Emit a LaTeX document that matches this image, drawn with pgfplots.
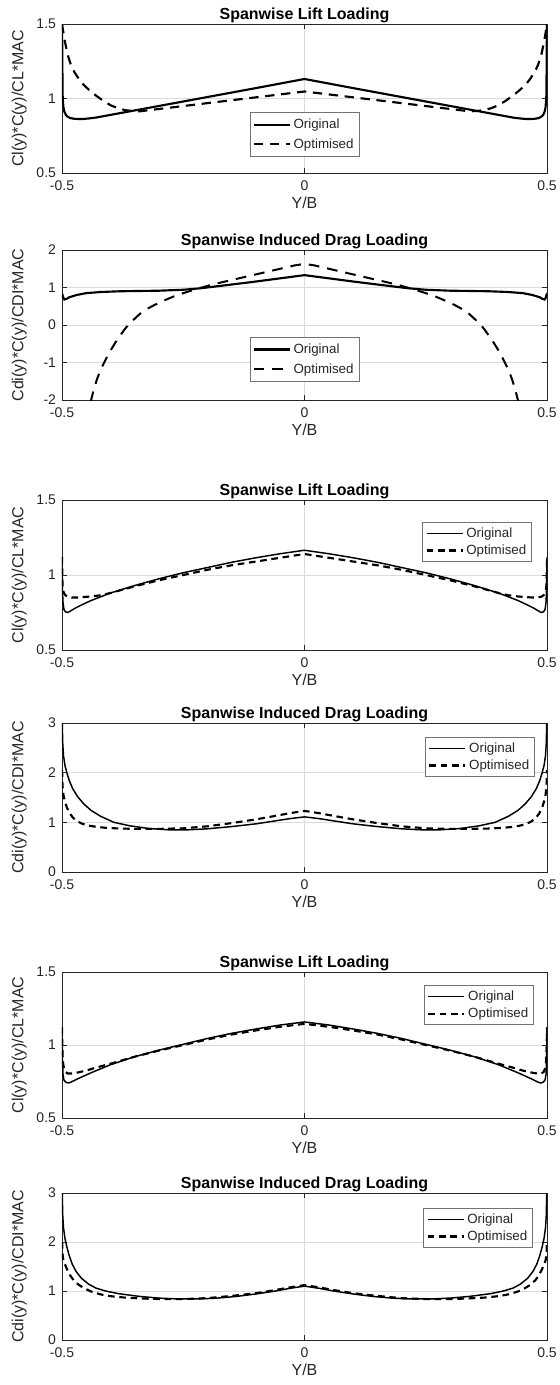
\documentclass[border=0pt]{standalone}
\usepackage{pgfplots}
\pgfplotsset{compat=1.18}
\usepackage{fontspec}
\setmainfont{Liberation Sans}
\definecolor{axgray}{gray}{0.15}
\definecolor{gridgray}{gray}{0.86}
\definecolor{txtgray}{gray}{0.15}
\pgfplotsset{
  mat/.style={
    scale only axis, width=363.75pt,
    anchor=north west,
    xmin=-0.5, xmax=0.5, xtick={-0.5,0,0.5},
    axis line style={axgray, line width=0.5pt},
    tick style={axgray, line width=0.5pt},
    tick align=inside, major tick length=3.5pt,
    grid=major, major grid style={gridgray, line width=0.5pt},
    tick label style={font=\fontsize{10.5}{12}\selectfont, text=txtgray},
    xticklabel style={yshift=-2pt},
    yticklabel style={xshift=-1pt},
    /pgf/number format/assume math mode=true,
    xlabel={Y/B},
    every axis x label/.style={at={(axis description cs:0.5,0)}, yshift=-22pt, anchor=center, font=\fontsize{12}{14}\selectfont, text=txtgray},
    every axis y label/.style={at={(axis description cs:0,0.5)}, xshift=-32pt, rotate=90, anchor=center, font=\fontsize{12}{14}\selectfont, text=txtgray},
    every axis title/.style={at={(axis description cs:0.5,1)}, anchor=base, yshift=3.5pt, font=\bfseries\fontsize{12}{14}\selectfont},
    legend cell align=left,
    legend style={draw=black!55, line width=0.5pt, fill=white, font=\fontsize{10}{12}\selectfont, inner xsep=2pt, inner ysep=2pt, row sep=0pt, text=txtgray},
    legend image code/.code={\draw[#1] (0pt,0pt) -- (27pt,0pt);},
    clip=true,
  },
  orig/.style={black, line width=1.6pt, solid},
  optA/.style={black, line width=1.6pt, dash pattern=on 7pt off 5pt},
  optB/.style={black, line width=1.5pt, dash pattern=on 8pt off 6pt},
  origT/.style={black, line width=1.1pt, solid},
  optC/.style={black, line width=1.6pt, dash pattern=on 5pt off 3.5pt},
}
\begin{document}
\begin{tikzpicture}
\useasboundingbox (0,0) rectangle (420pt,-1038.75pt);
% ---------- Panel 1 ----------
\begin{axis}[mat, at={(46.5pt,-18pt)}, height=111.75pt,
  ymin=0.5, ymax=1.5, ytick={0.5,1,1.5},
  title={Spanwise Lift Loading}, ylabel={Cl(y)*C(y)/CL*MAC},
  legend style={at={(0.5,0.107)}, anchor=south, row sep=2pt, inner ysep=3pt}]
\addplot[orig] coordinates {(-0.5,1.5) (-0.4993,1.3) (-0.499,1.1) (-0.4985,1.0) (-0.497,0.94) (-0.495,0.91) (-0.492,0.89) (-0.488,0.877) (-0.482,0.868) (-0.475,0.864) (-0.465,0.862) (-0.455,0.863) (-0.445,0.866) (-0.43,0.872) (-0.3,0.95) (-0.2,1.01) (-0.1,1.07) (0,1.131) (0.1,1.07) (0.2,1.01) (0.3,0.95) (0.43,0.872) (0.445,0.866) (0.455,0.863) (0.465,0.862) (0.475,0.864) (0.482,0.868) (0.488,0.877) (0.492,0.89) (0.495,0.91) (0.497,0.94) (0.4985,1.0) (0.499,1.1) (0.4993,1.3) (0.5,1.5)};
\addlegendentry{Original}
\addplot[optA] coordinates {(-0.5,1.5) (-0.4975,1.45) (-0.495,1.4) (-0.492,1.35) (-0.488,1.29) (-0.482,1.23) (-0.475,1.18) (-0.465,1.13) (-0.455,1.09) (-0.445,1.06) (-0.43,1.02) (-0.415,0.985) (-0.4,0.955) (-0.385,0.935) (-0.37,0.922) (-0.355,0.916) (-0.34,0.914) (-0.2,0.969) (-0.1,1.008) (0,1.047) (0.1,1.008) (0.2,0.969) (0.34,0.914) (0.355,0.916) (0.37,0.922) (0.385,0.935) (0.4,0.955) (0.415,0.985) (0.43,1.02) (0.445,1.06) (0.455,1.09) (0.465,1.13) (0.475,1.18) (0.482,1.23) (0.488,1.29) (0.492,1.35) (0.495,1.4) (0.4975,1.45) (0.5,1.5)};
\addlegendentry{Optimised}
\end{axis}
% ---------- Panel 2 ----------
\begin{axis}[mat, at={(46.5pt,-187.5pt)}, height=112.5pt,
  ymin=-2, ymax=2, ytick={-2,-1,0,1,2},
  title={Spanwise Induced Drag Loading}, ylabel={Cdi(y)*C(y)/CDI*MAC},
  legend style={at={(0.5,0.12)}, anchor=south, row sep=2pt, inner ysep=3pt}]
\addplot[orig] coordinates {(-0.5,0.72) (-0.4985,0.78) (-0.497,0.72) (-0.495,0.68) (-0.49,0.7) (-0.485,0.74) (-0.47,0.8) (-0.45,0.85) (-0.42,0.88) (-0.38,0.9) (-0.3,0.915) (-0.25,0.94) (-0.214,0.98) (-0.15,1.08) (-0.1,1.16) (-0.05,1.245) (0,1.33) (0.05,1.245) (0.1,1.16) (0.15,1.08) (0.214,0.98) (0.25,0.94) (0.3,0.915) (0.38,0.9) (0.42,0.88) (0.45,0.85) (0.47,0.8) (0.485,0.74) (0.49,0.7) (0.495,0.68) (0.497,0.72) (0.4985,0.78) (0.5,0.72)};
\addlegendentry{Original}
\addplot[optB] coordinates {(-0.441,-2.05) (-0.435,-1.75) (-0.428,-1.45) (-0.42,-1.18) (-0.41,-0.92) (-0.4,-0.68) (-0.39,-0.47) (-0.38,-0.28) (-0.37,-0.1) (-0.36,0.05) (-0.35,0.17) (-0.34,0.29) (-0.33,0.39) (-0.31,0.53) (-0.29,0.65) (-0.27,0.76) (-0.25,0.85) (-0.22,0.97) (-0.19,1.08) (-0.15,1.2) (-0.1,1.35) (-0.05,1.5) (-0.02,1.59) (0,1.63) (0.02,1.59) (0.05,1.5) (0.1,1.35) (0.15,1.2) (0.19,1.08) (0.22,0.97) (0.25,0.85) (0.27,0.76) (0.29,0.65) (0.31,0.53) (0.33,0.39) (0.34,0.29) (0.35,0.17) (0.36,0.05) (0.37,-0.1) (0.38,-0.28) (0.39,-0.47) (0.4,-0.68) (0.41,-0.92) (0.42,-1.18) (0.428,-1.45) (0.435,-1.75) (0.441,-2.05)};
\addlegendentry{Optimised}
\end{axis}
% ---------- Panel 3 ----------
\begin{axis}[mat, at={(46.5pt,-375pt)}, height=112.5pt,
  ymin=0.5, ymax=1.5, ytick={0.5,1,1.5},
  title={Spanwise Lift Loading}, ylabel={Cl(y)*C(y)/CL*MAC},
  legend style={at={(0.969,0.853)}, anchor=north east}]
\addplot[origT] coordinates {(-0.5,1.12) (-0.4995,1.0) (-0.499,0.9) (-0.498,0.82) (-0.496,0.77) (-0.493,0.755) (-0.489,0.75) (-0.485,0.755) (-0.475,0.775) (-0.46,0.8) (-0.44,0.83) (-0.42,0.855) (-0.4,0.88) (-0.35,0.93) (-0.3,0.975) (-0.25,1.015) (-0.2,1.05) (-0.15,1.085) (-0.1,1.115) (-0.05,1.142) (0,1.165) (0.05,1.142) (0.1,1.115) (0.15,1.085) (0.2,1.05) (0.25,1.015) (0.3,0.975) (0.35,0.93) (0.4,0.88) (0.42,0.855) (0.44,0.83) (0.46,0.8) (0.475,0.775) (0.485,0.755) (0.489,0.75) (0.493,0.755) (0.496,0.77) (0.498,0.82) (0.499,0.9) (0.4995,1.0) (0.5,1.12)};
\addlegendentry{Original}
\addplot[optC] coordinates {(-0.5,1.12) (-0.4995,1.02) (-0.499,0.94) (-0.498,0.9) (-0.496,0.88) (-0.493,0.865) (-0.488,0.855) (-0.48,0.85) (-0.47,0.85) (-0.46,0.852) (-0.44,0.857) (-0.42,0.865) (-0.4,0.88) (-0.35,0.925) (-0.3,0.965) (-0.25,1.0) (-0.2,1.035) (-0.15,1.065) (-0.1,1.09) (-0.05,1.115) (0,1.14) (0.05,1.115) (0.1,1.09) (0.15,1.065) (0.2,1.035) (0.25,1.0) (0.3,0.965) (0.35,0.925) (0.4,0.88) (0.42,0.865) (0.44,0.857) (0.46,0.852) (0.47,0.85) (0.48,0.85) (0.488,0.855) (0.493,0.865) (0.496,0.88) (0.498,0.9) (0.499,0.94) (0.4995,1.02) (0.5,1.12)};
\addlegendentry{Optimised}
\end{axis}
% ---------- Panel 4 ----------
\begin{axis}[mat, at={(46.5pt,-542.25pt)}, height=111.75pt,
  ymin=0, ymax=3, ytick={0,1,2,3},
  title={Spanwise Induced Drag Loading}, ylabel={Cdi(y)*C(y)/CDI*MAC},
  legend style={at={(0.975,0.906)}, anchor=north east}]
\addplot[origT] coordinates {(-0.4995,3.0) (-0.4985,2.6) (-0.497,2.35) (-0.494,2.15) (-0.49,2.0) (-0.485,1.84) (-0.478,1.68) (-0.468,1.52) (-0.455,1.37) (-0.44,1.24) (-0.42,1.12) (-0.393,1.0) (-0.36,0.93) (-0.32,0.875) (-0.28,0.85) (-0.24,0.85) (-0.2,0.87) (-0.15,0.915) (-0.1,0.97) (-0.06,1.03) (-0.03,1.075) (0,1.11) (0.03,1.075) (0.06,1.03) (0.1,0.97) (0.15,0.915) (0.2,0.87) (0.24,0.85) (0.28,0.85) (0.32,0.875) (0.36,0.93) (0.393,1.0) (0.42,1.12) (0.44,1.24) (0.455,1.37) (0.468,1.52) (0.478,1.68) (0.485,1.84) (0.49,2.0) (0.494,2.15) (0.497,2.35) (0.4985,2.6) (0.4995,3.0)};
\addlegendentry{Original}
\addplot[optC] coordinates {(-0.4998,2.05) (-0.499,1.75) (-0.497,1.55) (-0.494,1.42) (-0.49,1.3) (-0.484,1.18) (-0.477,1.09) (-0.468,1.02) (-0.458,0.97) (-0.445,0.935) (-0.43,0.91) (-0.41,0.89) (-0.38,0.875) (-0.34,0.868) (-0.3,0.868) (-0.25,0.88) (-0.2,0.92) (-0.15,0.985) (-0.1,1.06) (-0.06,1.13) (-0.03,1.185) (0,1.23) (0.03,1.185) (0.06,1.13) (0.1,1.06) (0.15,0.985) (0.2,0.92) (0.25,0.88) (0.3,0.868) (0.34,0.868) (0.38,0.875) (0.41,0.89) (0.43,0.91) (0.445,0.935) (0.458,0.97) (0.468,1.02) (0.477,1.09) (0.484,1.18) (0.49,1.3) (0.494,1.42) (0.497,1.55) (0.499,1.75) (0.4998,2.05)};
\addlegendentry{Optimised}
\end{axis}
% ---------- Panel 5 ----------
\begin{axis}[mat, at={(46.5pt,-729pt)}, height=109.5pt,
  ymin=0.5, ymax=1.5, ytick={0.5,1,1.5},
  title={Spanwise Lift Loading}, ylabel={Cl(y)*C(y)/CL*MAC},
  legend style={at={(0.973,0.91)}, anchor=north east}]
\addplot[origT] coordinates {(-0.5,1.12) (-0.4995,1.0) (-0.499,0.9) (-0.498,0.8) (-0.496,0.76) (-0.492,0.745) (-0.487,0.74) (-0.482,0.745) (-0.47,0.765) (-0.44,0.81) (-0.4,0.865) (-0.35,0.92) (-0.3,0.965) (-0.25,1.005) (-0.2,1.045) (-0.15,1.08) (-0.1,1.11) (-0.05,1.137) (0,1.158) (0.05,1.137) (0.1,1.11) (0.15,1.08) (0.2,1.045) (0.25,1.005) (0.3,0.965) (0.35,0.92) (0.4,0.865) (0.44,0.81) (0.47,0.765) (0.482,0.745) (0.487,0.74) (0.492,0.745) (0.496,0.76) (0.498,0.8) (0.499,0.9) (0.4995,1.0) (0.5,1.12)};
\addlegendentry{Original}
\addplot[optC] coordinates {(-0.5,1.12) (-0.4995,1.02) (-0.499,0.95) (-0.498,0.88) (-0.496,0.84) (-0.493,0.815) (-0.488,0.805) (-0.48,0.805) (-0.47,0.81) (-0.45,0.825) (-0.43,0.845) (-0.4,0.872) (-0.35,0.92) (-0.3,0.962) (-0.25,1.0) (-0.2,1.038) (-0.15,1.072) (-0.1,1.1) (-0.05,1.125) (0,1.145) (0.05,1.125) (0.1,1.1) (0.15,1.072) (0.2,1.038) (0.25,1.0) (0.3,0.962) (0.35,0.92) (0.4,0.872) (0.43,0.845) (0.45,0.825) (0.47,0.81) (0.48,0.805) (0.488,0.805) (0.493,0.815) (0.496,0.84) (0.498,0.88) (0.499,0.95) (0.4995,1.02) (0.5,1.12)};
\addlegendentry{Optimised}
\end{axis}
% ---------- Panel 6 ----------
\begin{axis}[mat, at={(46.5pt,-894.75pt)}, height=110.25pt,
  ymin=0, ymax=3, ytick={0,1,2,3},
  title={Spanwise Induced Drag Loading}, ylabel={Cdi(y)*C(y)/CDI*MAC},
  legend style={at={(0.971,0.898)}, anchor=north east}]
\addplot[origT] coordinates {(-0.4995,3.0) (-0.4985,2.55) (-0.497,2.3) (-0.494,2.08) (-0.49,1.9) (-0.485,1.72) (-0.479,1.55) (-0.471,1.4) (-0.46,1.26) (-0.445,1.14) (-0.43,1.06) (-0.41,1.0) (-0.383,0.945) (-0.34,0.89) (-0.3,0.855) (-0.26,0.838) (-0.22,0.838) (-0.18,0.855) (-0.14,0.89) (-0.1,0.94) (-0.06,1.0) (-0.03,1.055) (0,1.1) (0.03,1.055) (0.06,1.0) (0.1,0.94) (0.14,0.89) (0.18,0.855) (0.22,0.838) (0.26,0.838) (0.3,0.855) (0.34,0.89) (0.383,0.945) (0.41,1.0) (0.43,1.06) (0.445,1.14) (0.46,1.26) (0.471,1.4) (0.479,1.55) (0.485,1.72) (0.49,1.9) (0.494,2.08) (0.497,2.3) (0.4985,2.55) (0.4995,3.0)};
\addlegendentry{Original}
\addplot[optC] coordinates {(-0.4997,2.0) (-0.499,1.75) (-0.497,1.62) (-0.494,1.55) (-0.49,1.45) (-0.484,1.33) (-0.476,1.22) (-0.466,1.13) (-0.455,1.06) (-0.44,0.99) (-0.42,0.93) (-0.4,0.895) (-0.37,0.865) (-0.33,0.845) (-0.29,0.835) (-0.25,0.835) (-0.2,0.855) (-0.15,0.9) (-0.1,0.955) (-0.06,1.02) (-0.03,1.075) (0,1.12) (0.03,1.075) (0.06,1.02) (0.1,0.955) (0.15,0.9) (0.2,0.855) (0.25,0.835) (0.29,0.835) (0.33,0.845) (0.37,0.865) (0.4,0.895) (0.42,0.93) (0.44,0.99) (0.455,1.06) (0.466,1.13) (0.476,1.22) (0.484,1.33) (0.49,1.45) (0.494,1.55) (0.497,1.62) (0.499,1.75) (0.4997,2.0)};
\addlegendentry{Optimised}
\end{axis}
\end{tikzpicture}
\end{document}
